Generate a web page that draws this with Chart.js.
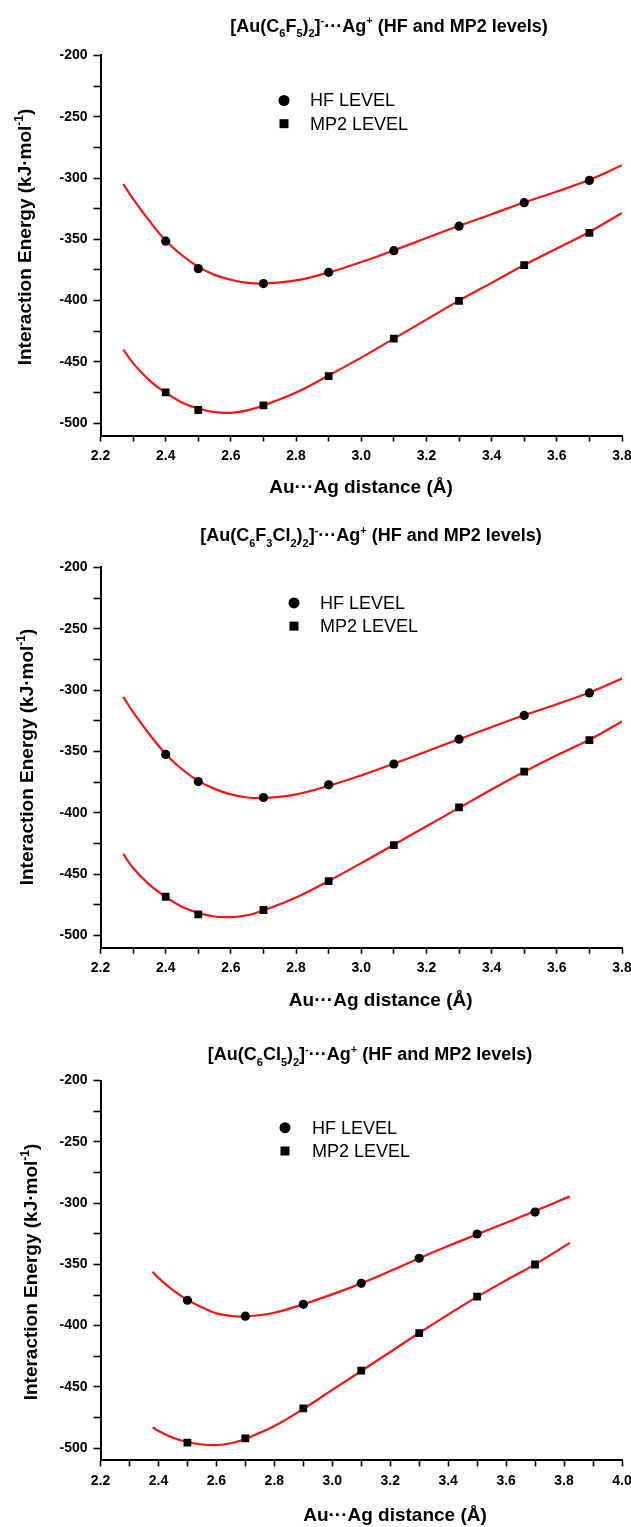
<!DOCTYPE html>
<html>
<head>
<meta charset="utf-8">
<script src="https://cdn.jsdelivr.net/npm/chart.js@4.4.1/dist/chart.umd.min.js"></script>
<style>
  html, body { margin: 0; padding: 0; background: #fff; }
  body { width: 631px; height: 1527px; overflow: hidden; position: relative; }
  canvas { position: absolute; left: 0; }
</style>
</head>
<body>
<canvas id="p1" width="660" height="505" style="top:0px"></canvas>
<canvas id="p2" width="660" height="505" style="top:505px"></canvas>
<canvas id="p3" width="660" height="517" style="top:1010px"></canvas>
<script>
// ---- data (distance in Å, energy in kJ/mol) ----
const dist12 = [2.4, 2.5, 2.7, 2.9, 3.1, 3.3, 3.5, 3.7];
const dist3 = [2.5, 2.7, 2.9, 3.1, 3.3, 3.5, 3.7];

const p1HF  = [-351.5, -373.9, -386.1, -376.9, -359.3, -339.3, -320.1, -302.0];
const p1MP2 = [-474.8, -489.2, -485.4, -461.6, -431.0, -400.2, -371.0, -344.7];
const p2HF  = [-352.4, -374.5, -387.5, -377.2, -360.2, -340.0, -320.6, -302.3];
const p2MP2 = [-468.4, -482.7, -479.2, -455.7, -426.3, -395.6, -366.4, -340.8];
const p3HF  = [-379.3, -392.3, -382.6, -365.5, -345.0, -325.2, -307.3];
const p3MP2 = [-495.5, -492.0, -467.5, -436.7, -406.1, -376.4, -350.1];

// fitted curves, read at these distances
const fitX12 = [2.27, 2.3, 2.35, 2.4, 2.45, 2.5, 2.55, 2.6, 2.65, 2.7, 2.8, 2.9, 3.0, 3.1, 3.2, 3.3, 3.4, 3.5, 3.6, 3.7, 3.8];
const fitX3  = [2.38, 2.4, 2.45, 2.5, 2.55, 2.6, 2.65, 2.7, 2.8, 2.9, 3.0, 3.1, 3.2, 3.3, 3.4, 3.5, 3.6, 3.7, 3.82];

const fit1HF  = [-305, -317, -335, -351, -363, -372.5, -379, -383, -385.5, -386, -383.5, -377, -368.5, -359, -349, -339, -329.5, -320, -311, -301.5, -289.5];
const fit1MP2 = [-440, -451, -465, -475, -483, -488, -491, -491.5, -489.5, -485.5, -475, -461, -446.5, -431, -415.5, -400, -385.5, -371, -357.5, -344, -328.5];
const fit2HF  = [-305.5, -318, -336, -352, -364.5, -374, -380.5, -385, -387.5, -388, -385, -378, -369.5, -360, -350, -340, -330, -320.5, -311.5, -302, -290.5];
const fit2MP2 = [-433.5, -445, -458.5, -468.5, -476.5, -481.5, -484.5, -485, -483.5, -479.5, -469, -455.5, -441, -426, -411, -396, -381, -366.5, -353, -340.5, -325.5];
const fit3HF  = [-356, -361, -371, -379, -385, -390, -392, -392.5, -389.5, -382.5, -374.5, -365.5, -355.5, -345, -335, -325.5, -316, -306.5, -294.5];
const fit3MP2 = [-483, -486, -491.5, -495, -497, -497.5, -496, -492.5, -482, -468, -452.5, -437, -421.5, -406, -391, -376.5, -363, -350, -332.5];

const seriesNames = ['HF LEVEL', 'MP2 LEVEL'];
const xTitle = 'Au\u00B7\u00B7\u00B7Ag distance (\u00C5)';
const yTitle = [['Interaction Energy (kJ\u00B7mol', 'n'], ['-1', 'sup'], [')', 'n']];
const title1 = [['[Au(C','n'],['6','sub'],['F','n'],['5','sub'],[')','n'],['2','sub'],[']','n'],['-','sup'],['\u00B7\u00B7\u00B7Ag','n'],['+','sup'],[' (HF and MP2 levels)','n']];
const title2 = [['[Au(C','n'],['6','sub'],['F','n'],['3','sub'],['Cl','n'],['2','sub'],[')','n'],['2','sub'],[']','n'],['-','sup'],['\u00B7\u00B7\u00B7Ag','n'],['+','sup'],[' (HF and MP2 levels)','n']];
const title3 = [['[Au(C','n'],['6','sub'],['Cl','n'],['5','sub'],[')','n'],['2','sub'],[']','n'],['-','sup'],['\u00B7\u00B7\u00B7Ag','n'],['+','sup'],[' (HF and MP2 levels)','n']];

const FAM = '"Liberation Sans", Arial, sans-serif';
Chart.defaults.font.family = FAM;
Chart.defaults.color = '#000';

function pairs(xs, ys) {
  return xs.map((x, i) => ({x: x, y: ys[i]}));
}

// text with sub/superscripts, centred on (cx, cy)
function drawRich(ctx, segs, cx, cy, rot, size, weight) {
  const small = Math.round(size * 0.62);
  const parts = segs.map(s => ({t: s[0], m: s[1], f: weight + ' ' + (s[1] === 'n' ? size : small) + 'px ' + FAM}));
  let w = 0;
  parts.forEach(p => { ctx.font = p.f; p.w = ctx.measureText(p.t).width; w += p.w; });
  ctx.save();
  ctx.translate(cx, cy);
  ctx.rotate(rot);
  ctx.textAlign = 'left';
  ctx.textBaseline = 'alphabetic';
  let x = -w / 2;
  const base = size * 0.36;
  parts.forEach(p => {
    ctx.font = p.f;
    let dy = 0;
    if (p.m === 'sub') dy = size * 0.3;
    if (p.m === 'sup') dy = -size * 0.42;
    ctx.fillText(p.t, x, base + dy);
    x += p.w;
  });
  ctx.restore();
}

const panelText = {
  id: 'panelText',
  afterDraw(chart, args, o) {
    const ctx = chart.ctx;
    ctx.save();
    ctx.fillStyle = '#000';
    drawRich(ctx, o.title, o.titleAt[0], o.titleAt[1], 0, 18, 'bold');
    drawRich(ctx, [[xTitle, 'n']], o.xTitleAt[0], o.xTitleAt[1], 0, 19, 'bold');
    drawRich(ctx, yTitle, o.yTitleAt[0], o.yTitleAt[1], -Math.PI / 2, 19, 'bold');
    // legend
    chart.data.datasets.filter(d => !d.showLine).forEach((d, i) => {
      const y = o.legendY[i];
      const mx = o.legendX[0];
      ctx.fillStyle = '#000';
      ctx.beginPath();
      if (d.pointStyle === 'circle') {
        ctx.arc(mx, y, 5.5, 0, Math.PI * 2);
      } else {
        ctx.rect(mx - 4.5, y - 4.5, 9, 9);
      }
      ctx.fill();
      ctx.font = '18px ' + FAM;
      ctx.textAlign = 'left';
      ctx.textBaseline = 'middle';
      ctx.fillText(d.label, o.legendX[1], y + 1);
    });
    ctx.restore();
  }
};

function makePanel(id, p) {
  const canvas = document.getElementById(id);
  const H = canvas.height;
  const datasets = [
    {label: seriesNames[0], data: pairs(p.dist, p.hf), pointStyle: 'circle', pointRadius: 4.6,
     pointBackgroundColor: '#000', pointBorderWidth: 0, showLine: false, order: 0},
    {label: seriesNames[1], data: pairs(p.dist, p.mp2), pointStyle: 'rect', pointRadius: 5.5,
     pointBackgroundColor: '#000', pointBorderWidth: 0, showLine: false, order: 0},
    {label: 'HF fit', data: pairs(p.fitX, p.fitHF), showLine: true, pointRadius: 0,
     borderColor: 'rgb(245,20,20)', borderWidth: 2.2, tension: 0.4, order: 1},
    {label: 'MP2 fit', data: pairs(p.fitX, p.fitMP2), showLine: true, pointRadius: 0,
     borderColor: 'rgb(245,20,20)', borderWidth: 2.2, tension: 0.4, order: 1}
  ];
  return new Chart(canvas, {
    type: 'scatter',
    data: {datasets: datasets},
    options: {
      responsive: false,
      animation: false,
      devicePixelRatio: 1,
      layout: {padding: {top: p.areaTop, left: 0, right: 38, bottom: 0}},
      plugins: {
        legend: {display: false},
        tooltip: {enabled: false},
        panelText: p.text
      },
      scales: {
        x: {
          type: 'linear', min: 2.2, max: p.xMax,
          border: {color: '#000', width: 2},
          grid: {drawOnChartArea: false, drawTicks: true, tickLength: 6, tickColor: '#000', tickWidth: 1.6},
          ticks: {
            stepSize: 0.1, autoSkip: false, maxRotation: 0, padding: 6,
            font: {size: 14, weight: 'bold'}, color: '#000',
            callback: v => (Math.round(v * 10) % 2 === 0 ? v.toFixed(1) : '')
          },
          afterFit: s => { s.height = H - p.areaBottom; }
        },
        y: {
          type: 'linear', min: -510, max: -200,
          border: {color: '#000', width: 2},
          grid: {drawOnChartArea: false, drawTicks: true, tickLength: 7, tickColor: '#000', tickWidth: 1.6},
          ticks: {
            stepSize: 25, includeBounds: false, padding: 6,
            font: {size: 14, weight: 'bold'}, color: '#000',
            callback: v => (v % 50 === 0 ? String(v) : '')
          },
          afterFit: s => { s.width = 100.5; }
        }
      }
    },
    plugins: [panelText]
  });
}

makePanel('p1', {
  dist: dist12, hf: p1HF, mp2: p1MP2, fitX: fitX12, fitHF: fit1HF, fitMP2: fit1MP2,
  xMax: 3.8, areaTop: 55.4, areaBottom: 435.5,
  text: {title: title1, titleAt: [389, 25.5], xTitleAt: [361, 486], yTitleAt: [24, 237],
         legendX: [284, 310], legendY: [100.5, 123.7]}
});
makePanel('p2', {
  dist: dist12, hf: p2HF, mp2: p2MP2, fitX: fitX12, fitHF: fit2HF, fitMP2: fit2MP2,
  xMax: 3.8, areaTop: 62.4, areaBottom: 442.8,
  text: {title: title2, titleAt: [371, 29.9], xTitleAt: [380.7, 494.2], yTitleAt: [26, 252],
         legendX: [294, 320], legendY: [97.9, 121.1]}
});
makePanel('p3', {
  dist: dist3, hf: p3HF, mp2: p3MP2, fitX: fitX3, fitHF: fit3HF, fitMP2: fit3MP2,
  xMax: 4.0, areaTop: 70.6, areaBottom: 450.4,
  text: {title: title3, titleAt: [370, 44], xTitleAt: [395, 504], yTitleAt: [30, 262],
         legendX: [285, 312], legendY: [117.7, 141]}
});
</script>
</body>
</html>
